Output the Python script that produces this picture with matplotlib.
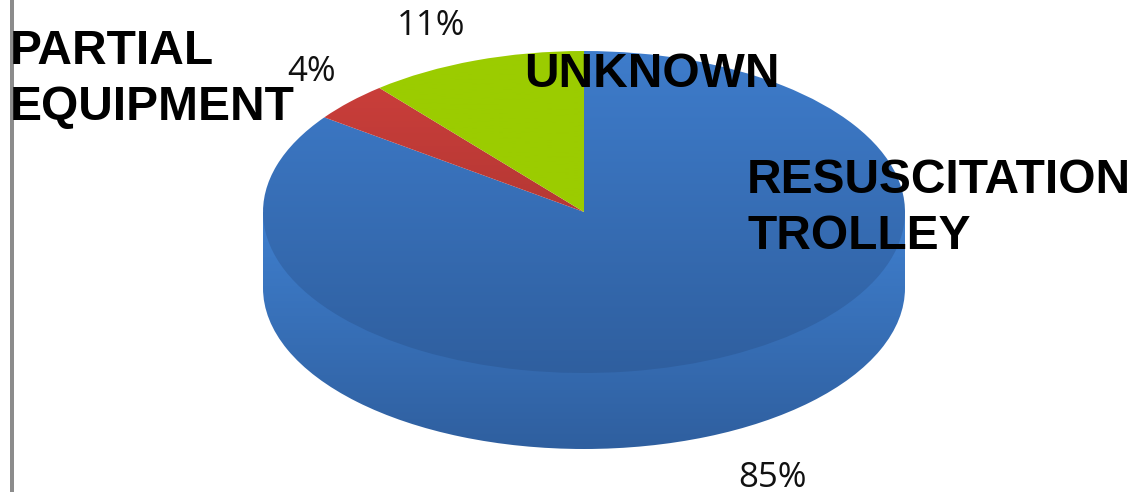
import numpy as np
import matplotlib
matplotlib.use("Agg")
import matplotlib.pyplot as plt
from matplotlib.colors import LinearSegmentedColormap

shares = [85, 4, 11]
share_labels = ["85%", "4%", "11%"]
names = ["RESUSCITATION\nTROLLEY", "PARTIAL\nEQUIPMENT", "UNKNOWN"]
top_colors = ["#3e7ccb", "#cf403c", "#9bcc00"]
bottom_colors = ["#2f5f9f", "#9c2f2c", "#9bcc00"]

W, H = 1131, 492
cx, cy = 584, 212
rx, ry = 321, 161
depth = 76 / ry

fig = plt.figure(figsize=(W/100, H/100), dpi=100)
ax = fig.add_axes([0, 0, 1, 1])

xlim = (-cx/rx, (W-cx)/rx)
ylim = ((cy-H)/ry, cy/ry)


def shade(clip, top, bottom, c1, c2, z):
    cm = LinearSegmentedColormap.from_list("g", [c1, c2])
    im = ax.imshow(np.linspace(0, 1, 256).reshape(-1, 1), cmap=cm, aspect="auto",
                   extent=[xlim[0], xlim[1], bottom, top], zorder=z)
    im.set_clip_path(clip)


# side wall: the whole pie pushed down, plus a band joining it to the top face
low = ax.pie([sum(shares)], center=(0, -depth), colors=["none"],
             wedgeprops={"linewidth": 0})[0][0]
shade(low, 0, -1 - depth, "#3f7fce", "#2f5f9f", 1)
band = plt.Rectangle((-1, -depth), 2, depth, fc="none", ec="none")
ax.add_patch(band)
shade(band, 0, -1 - depth, "#3f7fce", "#2f5f9f", 1)

# top face
wedges = ax.pie(shares, startangle=90, counterclock=False,
                colors=["none"]*len(shares), wedgeprops={"linewidth": 0})[0]
for w, c1, c2 in zip(wedges, top_colors, bottom_colors):
    shade(w, 1, -1, c1, c2, 2)

ax.set_aspect("auto")
ax.set_xlim(xlim)
ax.set_ylim(ylim)
ax.set_axis_off()

# frame line on the left
fig.add_artist(plt.Rectangle((10/W, 0), 4/W, 1, fc="#8c8c8c", ec="none",
                             transform=fig.transFigure))


def put(px, py, s, **kw):
    fig.text(px/W, 1 - py/H, s, zorder=5, **kw)


bold = dict(family="Liberation Sans", weight="bold", fontsize=34.5, color="black",
            linespacing=1.32, ha="left", va="top")
put(747, 158, names[0], **bold)
put(10, 29, names[1], **bold)
put(524, 52, names[2], **bold)

pct = dict(family="Open Sans", fontsize=25, color="#111111", ha="center", va="center")
put(772, 478, share_labels[0], **pct)
put(312, 72, share_labels[1], **pct)
put(431, 26, share_labels[2], **pct)

plt.savefig("out.png", dpi=100)
